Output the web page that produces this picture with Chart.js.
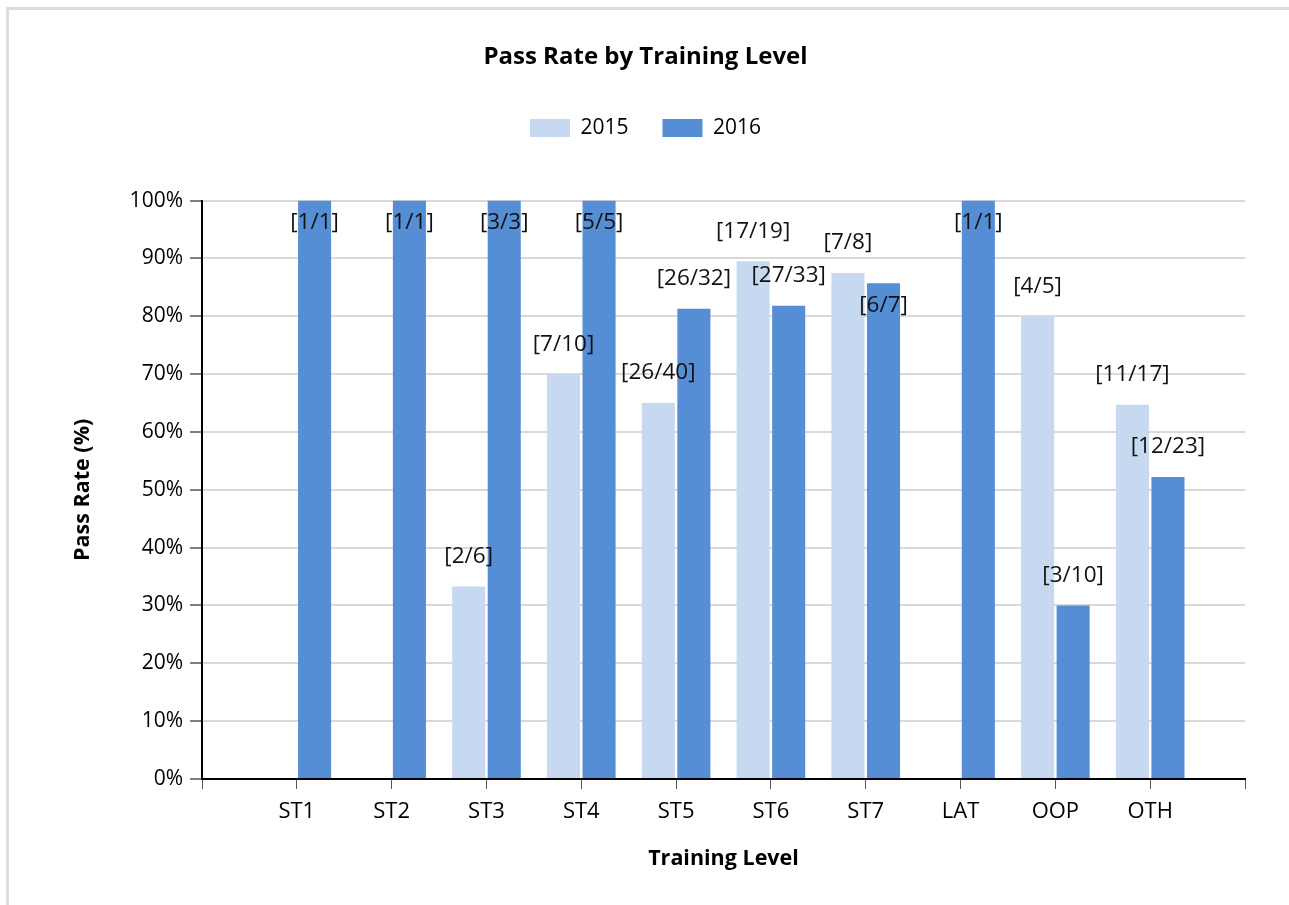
<!DOCTYPE html>
<html>
<head>
<meta charset="utf-8">
<script src="https://cdn.jsdelivr.net/npm/chart.js@4"></script>
<style>
    body { margin: 0; background: #ffffff; }
    #moldura {
        position: absolute; left: 6px; top: 7px;
        width: 1400px; height: 1000px;
        border-top: 3px solid #dcdcdc;
        border-left: 3px solid #dcdcdc;
    }
    #grafico { position: absolute; left: 0; top: 0; }
</style>
</head>
<body>
<div id="moldura"></div>
<canvas id="grafico" width="1289" height="905"></canvas>
<script>
// DADOS DO GRÁFICO (empty category at each end, like the original axis)
const niveis = ["", "ST1", "ST2", "ST3", "ST4", "ST5", "ST6", "ST7", "LAT", "OOP", "OTH", ""];

const series = ["2015", "2016"];

// Pass rate (%)
const taxa2015 = [null, null, null, 33.3, 70, 65, 89.5, 87.5, null, 80, 64.7, null];
const taxa2016 = [null, 100, 100, 100, 100, 81.3, 81.8, 85.7, 100, 30, 52.2, null];

// [passed/total] labels
const rotulos2015 = [null, null, null, "[2/6]", "[7/10]", "[26/40]", "[17/19]", "[7/8]", null, "[4/5]", "[11/17]", null];
const rotulos2016 = [null, "[1/1]", "[1/1]", "[3/3]", "[5/5]", "[26/32]", "[27/33]", "[6/7]", "[1/1]", "[3/10]", "[12/23]", null];

// Y tick labels
const ticksY = [0, 10, 20, 30, 40, 50, 60, 70, 80, 90, 100];

const fonte = "'Open Sans', 'Liberation Sans', sans-serif";


// PLUGIN: DESENHA RÓTULOS [n/d]
const rotulosPlugin = {
    id: "rotulos",
    afterDatasetsDraw(chart) {
        const ctx = chart.ctx;
        const area = chart.chartArea;
        const listas = [rotulos2015, rotulos2016];
        const ocupados = [];

        ctx.save();
        ctx.font = "22.5px " + fonte;
        ctx.fillStyle = "#111111";
        ctx.textAlign = "center";
        ctx.textBaseline = "middle";

        chart.data.datasets.forEach((ds, d) => {
            const meta = chart.getDatasetMeta(d);
            meta.data.forEach((bar, i) => {
                const texto = listas[d][i];
                if (!texto || ds.data[i] == null) return;

                const w = ctx.measureText(texto).width;
                const h = 24;
                let y = bar.y - 30;

                // Above the plot or over another label: put it inside the bar
                const bate = ocupados.some(r =>
                    Math.abs(r.x - bar.x) < (r.w + w) / 2 &&
                    Math.abs(r.y - y) < h
                );
                if (y - h / 2 < area.top || bate)
                    y = bar.y + 22;

                ocupados.push({ x: bar.x, y: y, w: w });
                ctx.fillText(texto, bar.x, y);
            });
        });

        ctx.restore();
    }
};


// CRIA GRÁFICO
new Chart(document.getElementById("grafico"), {
    type: "bar",
    data: {
        labels: niveis,
        datasets: [
            {
                label: series[0],
                data: taxa2015,
                backgroundColor: "#c6d9f1",
                categoryPercentage: 0.75,
                barPercentage: 0.93,
            },
            {
                label: series[1],
                data: taxa2016,
                backgroundColor: "#558ed5",
                categoryPercentage: 0.75,
                barPercentage: 0.93,
            },
        ],
    },
    options: {
        responsive: false,
        animation: false,
        layout: {
            padding: { top: 42.5, left: 46, right: 44, bottom: 0 }
        },
        plugins: {
            title: {
                display: true,
                text: "Pass Rate by Training Level",
                color: "#000000",
                font: { family: fonte, size: 24, weight: "bold" },
                padding: { top: 0, bottom: 12.3 },
            },
            legend: {
                position: "top",
                labels: {
                    color: "#000000",
                    boxWidth: 40,
                    boxHeight: 18,
                    padding: 34,
                    font: { family: fonte, size: 21 },
                },
            },
            tooltip: { enabled: false },
        },
        scales: {
            x: {
                offset: false,
                grid: {
                    display: true,
                    drawOnChartArea: false,
                    tickLength: 10,
                    tickColor: "#555555",
                    offset: false,
                },
                border: { color: "#000000", width: 2 },
                ticks: {
                    color: "#000000",
                    padding: 10,
                    maxRotation: 0,
                    autoSkip: false,
                    font: { family: fonte, size: 22 },
                },
                title: {
                    display: true,
                    text: "Training Level",
                    color: "#000000",
                    font: { family: fonte, size: 21.5, weight: "bold" },
                    padding: { top: 4, bottom: 33.5 },
                },
                afterFit: (s) => { s.height = 126; },
            },
            topo: {
                type: "category",
                position: "top",
                grid: { display: false },
                border: { display: false },
                ticks: { display: false },
                afterFit: (s) => { s.height = 52; },
            },
            y: {
                min: 0,
                max: 100,
                afterBuildTicks: (s) => {
                    s.ticks = ticksY.map(v => ({ value: v }));
                },
                grid: {
                    color: "#d9d9d9",
                    lineWidth: 2,
                    tickLength: 12,
                    tickColor: "#555555",
                    tickWidth: 1.5,
                },
                border: { color: "#000000", width: 2 },
                ticks: {
                    color: "#000000",
                    padding: 7,
                    font: { family: fonte, size: 21 },
                    callback: (v) => v + "%",
                },
                title: {
                    display: true,
                    text: "Pass Rate (%)",
                    color: "#000000",
                    font: { family: fonte, size: 21.5, weight: "bold" },
                    padding: { top: 23.5, bottom: 4 },
                },
                afterFit: (s) => { s.width = 156; },
            },
        },
    },
    plugins: [rotulosPlugin],
});
</script>
</body>
</html>
